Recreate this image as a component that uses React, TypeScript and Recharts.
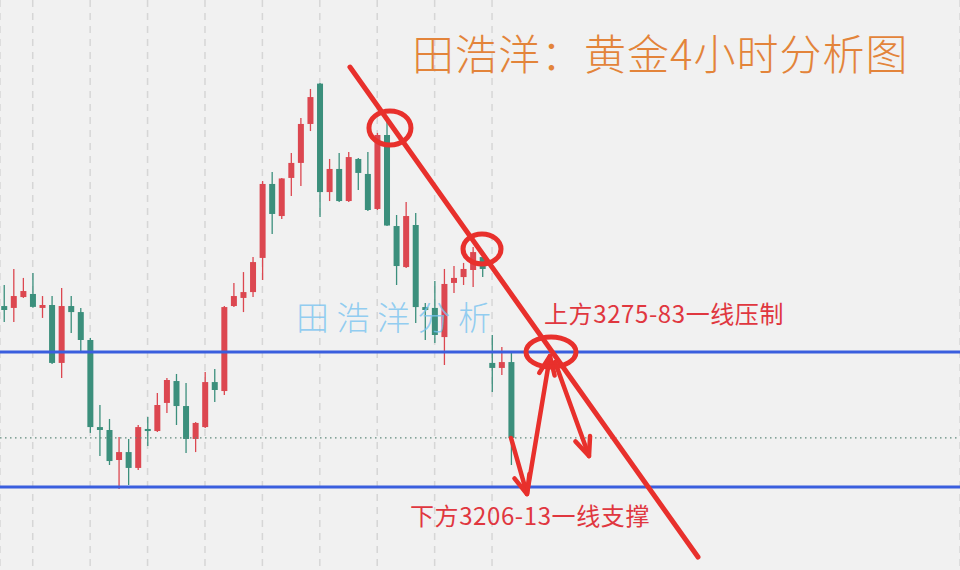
import React from 'react';
import { ComposedChart, Bar, XAxis, YAxis, ReferenceLine, ReferenceDot, CartesianGrid } from 'recharts';

// ---- data (4H gold candles) ----
const opens = [3308.5, 3307.4, 3313.7, 3315.5, 3307.4, 3309.1, 3275.5, 3308.5, 3305.0, 3288.8,
  3238.3, 3236.6, 3219.2, 3223.8, 3214.6, 3237.2, 3236.0, 3252.3, 3265.0, 3250.5,
  3231.4, 3238.3, 3264.4, 3259.2, 3308.5, 3313.2, 3316.6, 3336.4, 3379.3, 3360.7,
  3382.8, 3391.5, 3414.1, 3437.5, 3374.6, 3388.0, 3369.4, 3393.8, 3385.1, 3364.8,
  3407.7, 3354.9, 3331.1, 3355.5, 3307.9, 3307.4, 3290.5, 3321.9, 3325.3, 3329.4,
  3336.9, 3275.5, 3272.6, 3276.0];
const highs = [3320.7, 3330.0, 3324.8, 3327.7, 3314.3, 3314.3, 3319.0, 3314.3, 3307.4, 3290.0,
  3251.1, 3243.0, 3232.5, 3231.4, 3239.5, 3244.1, 3258.1, 3266.8, 3269.1, 3263.9,
  3241.2, 3270.2, 3272.0, 3308.5, 3321.9, 3328.2, 3336.9, 3381.0, 3386.2, 3382.8,
  3397.3, 3417.6, 3434.4, 3437.9, 3393.8, 3397.3, 3397.8, 3394.4, 3397.8, 3408.9,
  3415.2, 3361.3, 3368.8, 3362.5, 3310.3, 3323.0, 3330.0, 3331.7, 3333.5, 3342.7,
  3338.1, 3291.7, 3284.7, 3281.3];
const lows = [3299.2, 3299.2, 3313.2, 3307.5, 3301.6, 3274.9, 3266.8, 3292.9, 3282.4, 3234.9,
  3221.5, 3216.3, 3202.4, 3204.7, 3213.4, 3227.3, 3235.5, 3246.5, 3239.5, 3223.3,
  3223.8, 3237.8, 3252.8, 3256.9, 3307.9, 3305.0, 3313.7, 3323.6, 3350.3, 3359.0,
  3372.3, 3378.1, 3410.0, 3360.1, 3369.4, 3368.8, 3368.8, 3375.8, 3363.6, 3364.2,
  3354.9, 3320.7, 3330.6, 3298.7, 3288.8, 3287.1, 3274.3, 3316.1, 3320.7, 3319.5,
  3325.3, 3258.6, 3268.5, 3216.3];
const closes = [3306.2, 3314.3, 3317.2, 3308.0, 3309.1, 3275.5, 3308.5, 3305.0, 3288.8, 3238.3,
  3236.6, 3218.6, 3223.8, 3214.6, 3238.3, 3236.0, 3251.1, 3265.6, 3250.5, 3231.4,
  3240.7, 3264.4, 3259.8, 3307.9, 3314.3, 3316.6, 3334.0, 3379.3, 3361.9, 3382.5,
  3391.5, 3414.1, 3429.7, 3374.6, 3388.0, 3369.4, 3394.9, 3385.7, 3364.2, 3407.7,
  3355.2, 3331.7, 3360.7, 3307.9, 3306.2, 3291.7, 3321.3, 3324.8, 3330.0, 3339.8,
  3330.0, 3272.6, 3276.0, 3232.0];

// levels
const resistanceLevel = 3281.8;
const supportLevel = 3203.5;
const lastPrice = 3232.0;
const gridBars = [4, 10, 16, 22, 28, 34, 40, 46, 52];

// annotations (data coordinates: bar index, price)
const trendLine = [{ x: 37.15, y: 3447.1 }, { x: 73.52, y: 3162.9 }];
const circles = [
  { x: 41.33, y: 3411.8, rx: 21, ry: 17 },
  { x: 50.95, y: 3341.6, rx: 19, ry: 15 },
  { x: 58.16, y: 3281.8, rx: 25, ry: 15 },
];
const arrows = [
  [{ x: 53.98, y: 3232.0 }, { x: 55.65, y: 3199.5 }],
  [{ x: 55.65, y: 3199.5 }, { x: 58.05, y: 3279.5 }],
  [{ x: 58.58, y: 3276.0 }, { x: 62.13, y: 3221.5 }],
];
const labelUp = { x: 57.43, y: 3298.6, text: '上方3275-83一线压制' };
const labelDown = { x: 43.42, y: 3181.5, text: '下方3206-13一线支撑' };
const titleText = '田浩洋：黄金4小时分析图';
const watermarkText = '田浩洋分析';

const RED = '#dc4750';
const GREEN = '#3b8f7c';
const BLUE = '#3a5ede';
const MARK = '#e8302c';

const data = opens.map((o, i) => ({
  i: i + 1,
  range: [lows[i], highs[i]],
  o,
  h: highs[i],
  l: lows[i],
  c: closes[i],
}));

const Candle = (props: any) => {
  const { x, y, width, height, payload } = props;
  if (!payload) return null;
  const { o, h, l, c } = payload;
  const color = c >= o ? RED : GREEN;
  const top = height >= 0 ? y : y + height;
  const hh = Math.abs(height);
  const cx = x + width / 2;
  const ppu = hh / (h - l);
  const bTop = top + (h - Math.max(o, c)) * ppu;
  const bH = Math.max(1.8, Math.abs(o - c) * ppu);
  return (
    <g>
      <line x1={cx} x2={cx} y1={top} y2={top + hh} stroke={color} strokeWidth={1.3} />
      <rect x={cx - 3} y={bTop} width={6} height={bH} fill={color} />
    </g>
  );
};

const ArrowShape = (props: any) => {
  const { x1, y1, x2, y2 } = props;
  const ang = Math.atan2(y2 - y1, x2 - x1);
  const L = 20;
  const spread = 0.4;
  const a1x = x2 - L * Math.cos(ang - spread);
  const a1y = y2 - L * Math.sin(ang - spread);
  const a2x = x2 - L * Math.cos(ang + spread);
  const a2y = y2 - L * Math.sin(ang + spread);
  return (
    <g stroke={MARK} strokeWidth={4.5} strokeLinecap="round" fill="none">
      <line x1={x1} y1={y1} x2={x2} y2={y2} />
      <polyline points={`${a1x},${a1y} ${x2},${y2} ${a2x},${a2y}`} strokeLinejoin="round" />
    </g>
  );
};

const TrendShape = (props: any) => {
  const { x1, y1, x2, y2 } = props;
  return <line x1={x1} y1={y1} x2={x2} y2={y2} stroke={MARK} strokeWidth={5} strokeLinecap="round" />;
};

const labelFont = '"Noto Sans CJK SC", "Noto Sans", sans-serif';

export default function App() {
  return (
    <div style={{ position: 'absolute', left: 0, top: 0, width: 960, height: 570, background: '#f1f1f1', overflow: 'hidden' }}>
      <ComposedChart width={960} height={570} data={data} margin={{ top: 0, right: 0, bottom: 0, left: 0 }}>
        <CartesianGrid horizontal={false} stroke="#d6d6d6" strokeWidth={1.5} strokeDasharray="7 6" />
        <XAxis dataKey="i" type="number" domain={[0.58, 100.9]} ticks={gridBars} hide allowDataOverflow />
        <YAxis type="number" domain={[3155.4, 3486]} hide allowDataOverflow />
        <ReferenceLine y={lastPrice} stroke="#5f8a7c" strokeWidth={1.2} strokeDasharray="1.5 3.5" />
        <Bar dataKey="range" barSize={6} shape={<Candle />} isAnimationActive={false} />
        <ReferenceLine y={resistanceLevel} stroke={BLUE} strokeWidth={3} />
        <ReferenceLine y={supportLevel} stroke={BLUE} strokeWidth={3} />
        <ReferenceLine segment={trendLine} shape={<TrendShape />} ifOverflow="visible" />
        {circles.map((c, k) => (
          <ReferenceDot
            key={'c' + k}
            x={c.x}
            y={c.y}
            r={c.rx}
            ifOverflow="visible"
            shape={(p: any) => (
              <ellipse cx={p.cx} cy={p.cy} rx={c.rx} ry={c.ry} fill="none" stroke={MARK} strokeWidth={5} />
            )}
          />
        ))}
        {arrows.map((a, k) => (
          <ReferenceLine key={'a' + k} segment={a} shape={<ArrowShape />} ifOverflow="visible" />
        ))}
        {[labelUp, labelDown].map((lb, k) => (
          <ReferenceDot
            key={'t' + k}
            x={lb.x}
            y={lb.y}
            r={1}
            ifOverflow="visible"
            shape={(p: any) => (
              <text x={p.cx} y={p.cy} fill="#e0373f" fontSize={24} letterSpacing={0.6} fontFamily={labelFont}>
                {lb.text}
              </text>
            )}
          />
        ))}
      </ComposedChart>
      <div
        style={{
          position: 'absolute',
          left: 296,
          top: 300,
          fontFamily: labelFont,
          fontSize: 33,
          letterSpacing: 7.5,
          color: 'rgba(120, 195, 240, 0.8)',
          whiteSpace: 'nowrap',
          lineHeight: 1,
          fontWeight: 300,
        }}
      >
        {watermarkText}
      </div>
      <div
        style={{
          position: 'absolute',
          left: 412,
          top: 31,
          fontFamily: labelFont,
          fontSize: 42,
          letterSpacing: 1,
          color: '#e3843a',
          whiteSpace: 'nowrap',
          lineHeight: 1,
          fontWeight: 300,
        }}
      >
        {titleText}
      </div>
    </div>
  );
}
